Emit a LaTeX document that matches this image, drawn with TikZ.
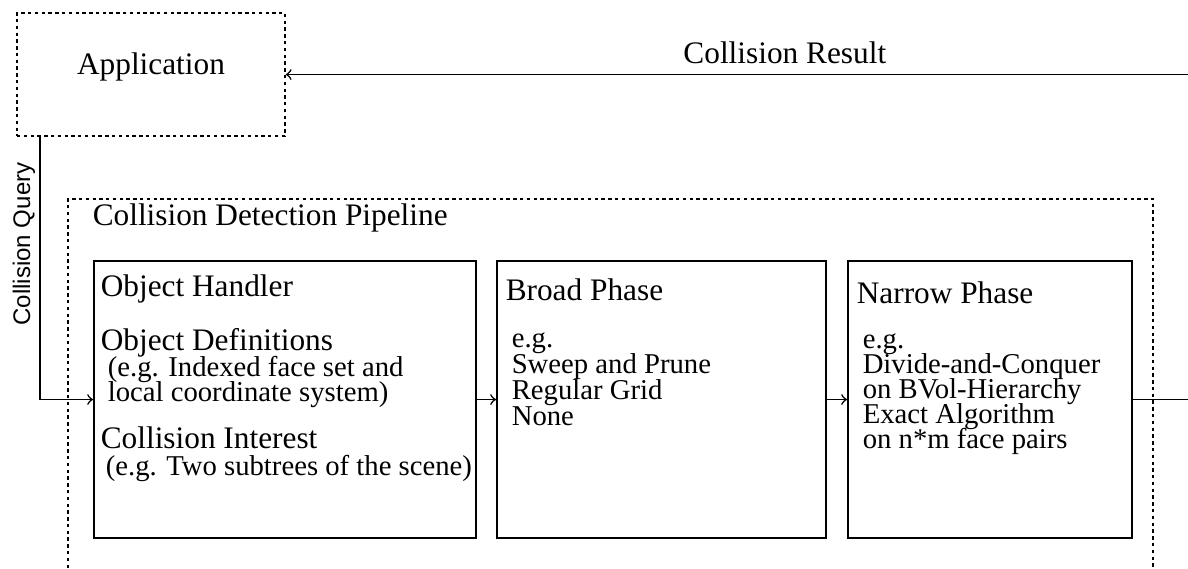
\documentclass[tikz,border=0pt]{standalone}
\usepackage{fontspec}
\setmainfont{Liberation Serif}
\setsansfont{Liberation Sans}
\usetikzlibrary{arrows}

\tikzset{
  stage/.style={draw, line width=0.75pt, minimum width=#1, minimum height=3.73cm, inner sep=0pt},
  dots/.style={dash pattern=on 1.3pt off 1.3pt},
  title/.style={anchor=base west, inner sep=0pt, font=\fontsize{12}{14}\selectfont},
  detail/.style={anchor=base west, inner sep=0pt, font=\fontsize{11}{13}\selectfont}
}

\begin{document}
\begin{tikzpicture}[line width=0.6pt, >=to]
\useasboundingbox (0, 0) rectangle (16, 7.65);

% application and the two messages
\path (2.034, 6.646) node[draw, dots, minimum width=3.609cm, minimum height=1.657cm, text height=0pt, text depth=0pt, font=\fontsize{12}{14}\selectfont] (app) {Application}
      (16, 6.646) coordinate (res)
      (0.539, 5.818) coordinate (query);

\draw[->] (res) -- (app);
\node[title, anchor=base] (resl) at (10.57, 6.788) {Collision Result};
\node[rotate=90, font=\sffamily\fontsize{9.2}{11}\selectfont] (queryl) at (0.323, 4.364) {Collision Query};

% pipeline frame
\draw[dots] (0.916, 0) |- (15.529, 4.970) -- (15.529, 0);
\node[title] (pipel) at (1.239, 4.619) {Collision Detection Pipeline};

% stages
\path (3.838, 2.269) node[stage=5.145cm] (oh) {}
      (8.909, 2.269) node[stage=4.431cm] (broad) {}
      (13.333, 2.269) node[stage=3.825cm] (narrow) {}
      (16, 2.269) coordinate (out);

\draw[->] (query) |- (oh);
\draw[->] (oh) -- (broad);
\draw[->] (broad) -- (narrow);
\draw (narrow) -- (out);

\node[title] (ohT) at (1.347, 3.650) {Object Handler};
\node[title] (ohD) at (1.347, 2.935) {Object Definitions};
\node[detail] (ohD1) at (1.441, 2.576) {(e.g. Indexed face set and};
\node[detail] (ohD2) at (1.441, 2.236) {local coordinate system)};
\node[title] (ohI) at (1.347, 1.612) {Collision Interest};
\node[detail] (ohI1) at (1.414, 1.250) {(e.g. Two subtrees of the scene)};

\node[title] (broadT) at (6.801, 3.609) {Broad Phase};
\foreach \txt [count=\i from 0] in {e.g., Sweep and Prune, Regular Grid, None}
  \node[detail] (broad\i) at (6.882, 2.976-0.35*\i) {\txt};

\node[title] (narrowT) at (11.529, 3.569) {Narrow Phase};
\foreach \txt [count=\i from 0] in {e.g., Divide-and-Conquer, on BVol-Hierarchy, Exact Algorithm, on n*m face pairs}
  \node[detail] (narrow\i) at (11.609, 2.963-0.34*\i) {\txt};
\end{tikzpicture}
\end{document}
